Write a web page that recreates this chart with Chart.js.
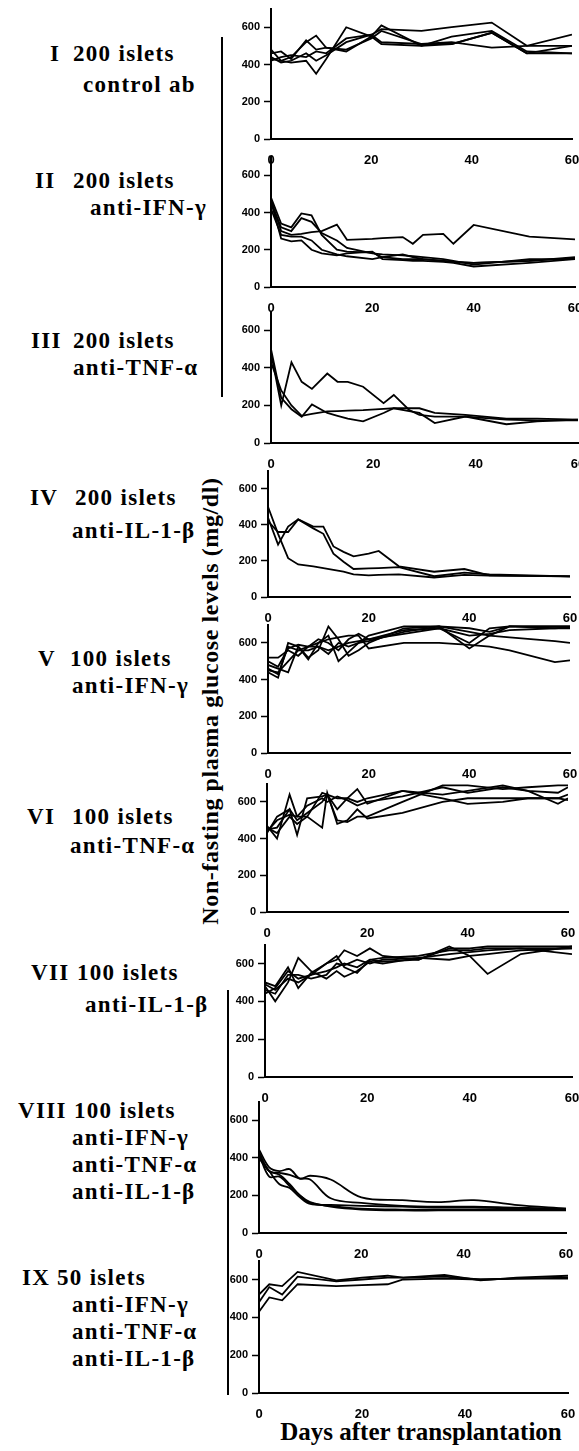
<!DOCTYPE html>
<html>
<head>
<meta charset="utf-8">
<script src="https://cdn.jsdelivr.net/npm/chart.js@4.4.1/dist/chart.umd.min.js"></script>
<style>
  body { margin: 0; background: #fff; width: 579px; height: 1451px; overflow: hidden; position: relative; }
  canvas { position: absolute; }
  .lbl { position: absolute; font-family: "Liberation Serif", "Times New Roman", serif; font-weight: bold;
         font-size: 23px; letter-spacing: 1.3px; line-height: 22px; color: #000; white-space: nowrap; }
  .bar { position: absolute; width: 2px; background: #000; }
  #ytitle { position: absolute; font-family: "Liberation Serif", serif; font-weight: bold; font-size: 24px;
            letter-spacing: 0.6px; white-space: nowrap; line-height: 24px;
            transform: translate(-50%, -50%) rotate(-90deg); left: 210px; top: 701px; }
  #xtitle { position: absolute; font-family: "Liberation Serif", serif; font-weight: bold; font-size: 25px;
            white-space: nowrap; line-height: 25px; transform: translate(-50%, -50%); left: 421px; top: 1431px; }
</style>
</head>
<body>
<div id="ytitle">Non-fasting plasma glucose levels (mg/dl)</div>
<div id="xtitle">Days after transplantation</div>
<div class="bar" style="left:221px; top:37px; height:360px;"></div>
<div class="bar" style="left:227px; top:990px; height:405px;"></div>
<script>
// axis ticks shared by every panel
const dayTicks = [0, 20, 40, 60];
const glucoseTicks = [0, 200, 400, 600];

// I  200 islets, control ab
const daysI = [0, 2, 4, 7, 9, 11, 15, 20, 22, 30, 36, 44, 51, 60];
const I_m1 = [480, 420, 410, 420, 350, 430, 600, 550, 510, 500, 510, 570, 460, 460];
const I_m2 = [460, 470, 430, 530, 480, 490, 470, 550, 610, 500, 550, 580, 470, 460];
const I_m3 = [440, 410, 420, 460, 420, 450, 520, 560, 590, 580, 600, 625, 500, 560];
const I_m4 = [430, 420, 440, 520, 555, 490, 480, 540, 580, 510, 510, 570, 460, 500];
const I_m5 = [420, 440, 450, 440, 470, 460, 540, 560, 520, 510, 520, 490, 500, 500];

// II  200 islets, anti-IFN-gamma
const daysII = [0, 2, 4, 6, 8, 10, 13, 15, 20, 22, 26, 28, 30, 34, 36, 40, 51, 60];
const II_m1 = [470, 300, 280, 285, 295, 300, 335, 253, 258, 262, 268, 232, 280, 285, 232, 333, 270, 256];
const II_m2 = [480, 340, 320, 395, 385, 280, 200, 190, 185, 160, 150, 150, 150, 140, 135, 130, 140, 160];
const II_m3 = [450, 320, 300, 370, 350, 290, 250, 210, 180, 175, 170, 165, 160, 150, 140, 120, 150, 150];
const II_m4 = [460, 260, 245, 250, 200, 180, 170, 180, 190, 150, 145, 140, 140, 135, 130, 110, 130, 150];
const II_m5 = [420, 280, 270, 270, 250, 200, 175, 165, 150, 160, 175, 160, 150, 140, 135, 130, 140, 155];

// III  200 islets, anti-TNF-alpha
const daysIII = [0, 2, 4, 6, 8, 11, 13, 15, 18, 22, 24, 27, 29, 32, 38, 46, 52, 60];
const III_m1 = [480, 200, 430, 326, 288, 370, 326, 326, 300, 212, 256, 176, 150, 140, 140, 125, 120, 120];
const III_m2 = [500, 240, 180, 140, 205, 160, 145, 130, 115, 160, 185, 170, 160, 106, 141, 100, 115, 124];
const III_m3 = [430, 280, 200, 145, 155, 168, 170, 172, 175, 182, 185, 185, 185, 160, 150, 130, 130, 124];

// IV  200 islets, anti-IL-1-beta
const daysIV = [0, 2, 4, 6, 9, 11, 13, 15, 17, 20, 22, 26, 33, 39, 44, 60];
const IV_m1 = [500, 350, 215, 180, 170, 160, 150, 140, 125, 120, 122, 125, 108, 122, 118, 114];
const IV_m2 = [440, 290, 390, 430, 390, 390, 280, 250, 225, 240, 255, 170, 140, 155, 120, 114];
const IV_m3 = [420, 360, 360, 430, 380, 350, 240, 195, 155, 158, 160, 165, 115, 135, 125, 114];

// V  100 islets, anti-IFN-gamma
const daysV = [0, 2, 4, 6, 8, 10, 12, 14, 16, 18, 20, 27, 34, 40, 44, 48, 57, 60];
const V_m1 = [440, 410, 600, 580, 520, 560, 690, 620, 530, 560, 600, 680, 690, 680, 660, 690, 690, 690];
const V_m2 = [480, 460, 440, 580, 510, 600, 640, 500, 550, 600, 640, 690, 690, 570, 640, 690, 680, 680];
const V_m3 = [520, 520, 560, 530, 580, 580, 540, 600, 580, 600, 610, 660, 690, 660, 640, 630, 610, 600];
const V_m4 = [460, 430, 580, 560, 580, 600, 620, 630, 640, 640, 570, 600, 600, 590, 580, 560, 495, 505];
const V_m5 = [500, 470, 570, 590, 580, 620, 600, 560, 620, 650, 620, 670, 680, 640, 650, 670, 680, 685];
const V_m6 = [450, 440, 500, 560, 560, 580, 560, 580, 600, 610, 620, 650, 680, 600, 680, 690, 690, 690];

// VI  100 islets, anti-TNF-alpha
const daysVI = [0, 2, 4.5, 6, 8, 11, 12, 14, 16, 18, 20, 27, 35, 40, 47, 52, 58, 60];
const VI_m1 = [470, 400, 640, 520, 520, 460, 650, 480, 500, 560, 510, 540, 600, 620, 620, 620, 620, 610];
const VI_m2 = [450, 460, 560, 420, 620, 630, 640, 500, 490, 520, 520, 600, 690, 690, 670, 680, 690, 690];
const VI_m3 = [430, 520, 560, 500, 540, 600, 640, 560, 620, 670, 590, 660, 620, 590, 600, 620, 620, 640];
const VI_m4 = [460, 430, 520, 480, 520, 650, 640, 620, 620, 600, 620, 660, 640, 660, 690, 660, 590, 620];
const VI_m5 = [440, 500, 530, 520, 580, 620, 600, 630, 610, 580, 600, 630, 680, 650, 680, 660, 650, 680];

// VII  100 islets, anti-IL-1-beta
const daysVII = [0, 2, 4.5, 6.5, 9, 12, 14, 15.5, 18, 20.5, 23, 30, 36, 40, 43.5, 50, 60];
const VII_m1 = [500, 480, 580, 470, 550, 600, 620, 670, 640, 680, 640, 620, 690, 640, 545, 650, 690];
const VII_m2 = [480, 400, 500, 630, 560, 520, 560, 530, 560, 610, 600, 630, 620, 640, 650, 670, 680];
const VII_m3 = [440, 470, 560, 520, 540, 560, 580, 600, 580, 620, 610, 620, 680, 680, 690, 690, 690];
const VII_m4 = [460, 440, 540, 540, 520, 540, 600, 590, 620, 600, 620, 630, 650, 660, 670, 680, 650];
const VII_m5 = [490, 460, 520, 500, 540, 600, 640, 580, 550, 620, 630, 640, 670, 670, 680, 680, 680];

// VIII  100 islets, anti-IFN-gamma + anti-TNF-alpha + anti-IL-1-beta
const daysVIII = [0, 2, 4, 6, 8, 10, 14, 20, 28, 35, 42, 50, 60];
const VIII_m1 = [445, 350, 330, 340, 290, 305, 285, 190, 175, 165, 175, 150, 130];
const VIII_m2 = [430, 330, 320, 310, 290, 285, 185, 160, 145, 140, 140, 135, 130];
const VIII_m3 = [420, 300, 300, 250, 200, 160, 145, 130, 125, 125, 125, 125, 125];
const VIII_m4 = [410, 330, 260, 240, 190, 155, 150, 145, 140, 135, 135, 130, 125];
const VIII_m5 = [400, 330, 310, 260, 200, 165, 140, 125, 120, 120, 120, 120, 120];

// IX  50 islets, all three antibodies
const daysIX = [0, 2, 4.5, 7.5, 15, 20, 25, 28, 36, 43, 50, 60];
const IX_m1 = [520, 575, 565, 640, 595, 610, 620, 610, 625, 595, 610, 620];
const IX_m2 = [480, 560, 520, 615, 590, 600, 610, 610, 615, 600, 605, 610];
const IX_m3 = [430, 505, 490, 575, 565, 570, 575, 600, 605, 600, 605, 605];

// where each panel sits on the page: pixel of day 0 / day 60, and of 600 / 0 mg/dl
const panels = [
  { days: daysI,    mice: [I_m1, I_m2, I_m3, I_m4, I_m5],             x0: 271, x60: 572, y600: 27,   y0: 139 },
  { days: daysII,   mice: [II_m1, II_m2, II_m3, II_m4, II_m5],        x0: 271, x60: 575, y600: 175,  y0: 287 },
  { days: daysIII,  mice: [III_m1, III_m2, III_m3],                   x0: 271, x60: 578, y600: 330,  y0: 443 },
  { days: daysIV,   mice: [IV_m1, IV_m2, IV_m3],                      x0: 268, x60: 570, y600: 488,  y0: 597 },
  { days: daysV,    mice: [V_m1, V_m2, V_m3, V_m4, V_m5, V_m6],       x0: 268, x60: 570, y600: 642,  y0: 753 },
  { days: daysVI,   mice: [VI_m1, VI_m2, VI_m3, VI_m4, VI_m5],        x0: 267, x60: 568, y600: 801,  y0: 912 },
  { days: daysVII,  mice: [VII_m1, VII_m2, VII_m3, VII_m4, VII_m5],   x0: 265, x60: 572, y600: 963,  y0: 1077 },
  { days: daysVIII, mice: [VIII_m1, VIII_m2, VIII_m3, VIII_m4, VIII_m5], x0: 259, x60: 566, y600: 1120, y0: 1233, smooth: true },
  { days: daysIX,   mice: [IX_m1, IX_m2, IX_m3],                      x0: 259, x60: 568, y600: 1279, y0: 1393 }
];

// group labels on the left: text, left x, vertical centre
const labels = [
  ['I', 50, 54], ['200 islets', 73, 54], ['control ab', 83, 85],
  ['II', 35, 181], ['200 islets', 73, 181], ['anti-IFN-γ', 90, 208],
  ['III', 31, 341], ['200 islets', 73, 341], ['anti-TNF-α', 73, 368],
  ['IV', 30, 498], ['200 islets', 75, 498], ['anti-IL-1-β', 72, 531],
  ['V', 38, 659], ['100 islets', 70, 659], ['anti-IFN-γ', 72, 686],
  ['VI', 27, 817], ['100 islets', 72, 817], ['anti-TNF-α', 70, 846],
  ['VII', 31, 973], ['100 islets', 77, 973], ['anti-IL-1-β', 85, 1005],
  ['VIII', 18, 1111], ['100 islets', 74, 1111], ['anti-IFN-γ', 72, 1138], ['anti-TNF-α', 72, 1165], ['anti-IL-1-β', 72, 1192],
  ['IX', 22, 1278], ['50 islets', 57, 1278], ['anti-IFN-γ', 72, 1305], ['anti-TNF-α', 72, 1332], ['anti-IL-1-β', 72, 1359]
];

labels.forEach(([text, x, y]) => {
  const el = document.createElement('div');
  el.className = 'lbl';
  el.textContent = text;
  el.style.left = x + 'px';
  el.style.top = (y - 11) + 'px';
  document.body.appendChild(el);
});

const CANVAS_LEFT = 200;
const PAD_TOP = 10;
const PAD_RIGHT = 24;
const X_AXIS_H = 30;

panels.forEach(p => {
  const unit = (p.y0 - p.y600) / 600;
  const yTop = Math.round(p.y0 - 700 * unit);
  const canvas = document.createElement('canvas');
  canvas.width = p.x60 - CANVAS_LEFT + PAD_RIGHT;
  canvas.height = (p.y0 - yTop) + PAD_TOP + X_AXIS_H;
  canvas.style.left = CANVAS_LEFT + 'px';
  canvas.style.top = (yTop - PAD_TOP) + 'px';
  document.body.appendChild(canvas);

  new Chart(canvas, {
    type: 'line',
    data: {
      datasets: p.mice.map(vals => ({
        data: vals.map((v, i) => ({ x: p.days[i], y: v })),
        borderColor: '#000',
        borderWidth: 1.8,
        pointRadius: 0,
        fill: false,
        tension: p.smooth ? 0.35 : 0
      }))
    },
    options: {
      responsive: false,
      animation: false,
      layout: { padding: { top: PAD_TOP, right: PAD_RIGHT, left: 0, bottom: 0 } },
      plugins: { legend: { display: false }, tooltip: { enabled: false } },
      scales: {
        x: {
          type: 'linear', min: 0, max: 60,
          afterBuildTicks: s => { s.ticks = dayTicks.map(v => ({ value: v })); },
          afterFit: s => { s.height = X_AXIS_H; },
          grid: { display: false },
          border: { display: true, color: '#000', width: 2 },
          ticks: { color: '#000', padding: 6, maxRotation: 0,
                   font: { family: 'Liberation Sans', weight: 'bold', size: 13 } }
        },
        y: {
          min: 0, max: 700,
          afterBuildTicks: s => { s.ticks = glucoseTicks.map(v => ({ value: v })); },
          afterFit: s => { s.width = p.x0 - CANVAS_LEFT; },
          grid: { display: true, drawOnChartArea: false, drawTicks: true, tickLength: 7, tickWidth: 1.5, color: '#000' },
          border: { display: true, color: '#000', width: 2 },
          ticks: { color: '#000', padding: 4,
                   font: { family: 'Liberation Sans', weight: 'bold', size: 11 } }
        }
      }
    }
  });
});
</script>
</body>
</html>
